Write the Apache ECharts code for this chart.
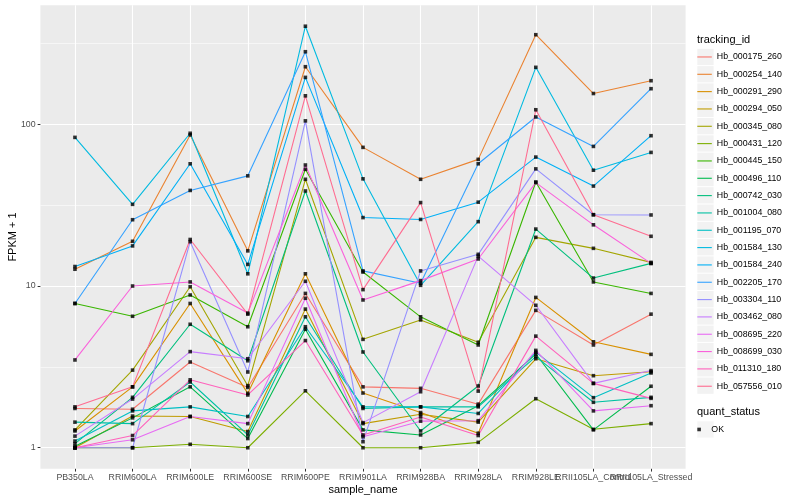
<!DOCTYPE html>
<html>
<head>
<meta charset="utf-8">
<script src="https://cdn.jsdelivr.net/npm/echarts@6.0.0/dist/echarts.min.js"></script>
<style>html,body{margin:0;padding:0;background:#fff}#chart{width:800px;height:500px}</style>
</head>
<body>
<div id="chart"></div>
<script>
// ---- data ----
const categories = ["PB350LA","RRIM600LA","RRIM600LE","RRIM600SE","RRIM600PE","RRIM901LA","RRIM928BA","RRIM928LA","RRIM928LE","RRII105LA_Control","RRII105LA_Stressed"];
const trackingIds = ["Hb_000175_260","Hb_000254_140","Hb_000291_290","Hb_000294_050","Hb_000345_080","Hb_000431_120","Hb_000445_150","Hb_000496_110","Hb_000742_030","Hb_001004_080","Hb_001195_070","Hb_001584_130","Hb_001584_240","Hb_002205_170","Hb_003304_110","Hb_003462_080","Hb_008695_220","Hb_008699_030","Hb_011310_180","Hb_057556_010"];
const hb_000175_260 = [1.75, 1.73, 3.39, 2.36, 9.0, 2.38, 2.33, 1.86, 7.07, 4.32, 6.7];
const hb_000254_140 = [12.7, 18.9, 86, 16.5, 227, 72, 45.7, 60.7, 358, 155, 186];
const hb_000291_290 = [1.27, 2.38, 7.8, 2.17, 11.9, 2.18, 1.65, 1.23, 8.5, 4.52, 3.78];
const hb_000294_050 = [1.0, 1.57, 1.56, 1.26, 7.2, 1.41, 1.61, 1.44, 3.55, 2.79, 2.95];
const hb_000345_080 = [1.29, 3.02, 9.9, 2.42, 45.7, 4.68, 6.17, 4.49, 20, 17.1, 14.0];
const hb_000431_120 = [1.0, 1.0, 1.05, 1.0, 2.25, 1.0, 1.0, 1.08, 2.01, 1.30, 1.41];
const hb_000445_150 = [7.8, 6.5, 8.8, 5.6, 52.7, 12.2, 6.45, 4.32, 44, 10.6, 9.0];
const hb_000496_110 = [1.02, 1.53, 2.38, 1.14, 5.4, 1.29, 1.2, 1.82, 3.8, 1.29, 2.4];
const hb_000742_030 = [1.06, 2.05, 5.8, 3.45, 38.7, 3.91, 1.27, 2.41, 22.5, 11.2, 13.8];
const hb_001004_080 = [1.44, 1.41, 2.55, 1.2, 6.45, 1.75, 1.79, 1.79, 3.66, 1.91, 2.05];
const hb_001195_070 = [1.10, 1.69, 1.79, 1.56, 5.6, 1.79, 1.79, 1.63, 3.9, 2.04, 2.9];
const hb_001584_130 = [83, 32, 88, 11.9, 404, 46, 10.1, 25, 225, 52, 67];
const hb_001584_240 = [13.2, 17.7, 57, 13.6, 195, 26.5, 25.8, 33, 62.7, 41.5, 85];
const hb_002205_170 = [7.8, 25.7, 39, 48, 281, 12.4, 10.4, 57, 111, 73, 166];
const hb_003304_110 = [1.0, 1.0, 18.8, 2.94, 105, 1.09, 12.4, 15.7, 53, 27.6, 27.5];
const hb_003462_080 = [1.18, 2.0, 3.93, 3.55, 10.7, 1.43, 2.22, 15.3, 7.6, 2.5, 3.0];
const hb_008695_220 = [1.0, 1.12, 1.56, 1.41, 8.4, 1.17, 1.46, 1.47, 4.0, 1.69, 1.82];
const hb_008699_030 = [3.49, 10.0, 10.6, 6.8, 56, 8.2, 10.8, 14.7, 43.6, 23.9, 13.8];
const hb_011310_180 = [1.0, 1.19, 2.63, 2.12, 4.6, 1.2, 1.55, 1.19, 4.9, 2.5, 2.02];
const hb_057556_010 = [1.79, 2.38, 19.4, 6.7, 150, 9.5, 32.8, 2.24, 123, 27.6, 20.3];
const seriesValues = [hb_000175_260, hb_000254_140, hb_000291_290, hb_000294_050, hb_000345_080, hb_000431_120, hb_000445_150, hb_000496_110, hb_000742_030, hb_001004_080, hb_001195_070, hb_001584_130, hb_001584_240, hb_002205_170, hb_003304_110, hb_003462_080, hb_008695_220, hb_008699_030, hb_011310_180, hb_057556_010];
const quantStatus = ["OK"];
const yTickValues = [1, 10, 100];
const yMinorValues = [3.1623, 31.623, 316.23];

// ---- styling ----
const palette = ["#F8766D","#EA8331","#D89000","#C09B00","#A3A500","#7CAE00","#39B600","#00BB4E","#00BF7D","#00C1A3","#00BFC4","#00BAE0","#00B0F6","#35A2FF","#9590FF","#C77CFF","#E76BF3","#FA62DB","#FF62BC","#FF6C91"];
const FONT = "'Liberation Sans', Arial, Helvetica, sans-serif";
const xIdx = categories.map((c, i) => i);
// labels split over two axes on the same scale, so ECharts does not drop overlapping ones
const xIdxEven = xIdx.filter(i => i % 2 === 0);
const xIdxOdd = xIdx.filter(i => i % 2 === 1);

const lineSeries = trackingIds.map((id, k) => ({
  name: id,
  type: 'line',
  xAxisIndex: 0, yAxisIndex: 0,
  data: seriesValues[k].map((v, i) => [i, v]),
  symbol: 'none',
  lineStyle: { width: 1.1, color: palette[k] },
  itemStyle: { color: palette[k] },
  z: 2,
  silent: true
}));

const pointData = [];
seriesValues.forEach(arr => arr.forEach((v, i) => pointData.push([i, v])));

const pointSeries = {
  name: quantStatus[0],
  type: 'scatter',
  xAxisIndex: 0, yAxisIndex: 0,
  data: pointData,
  symbol: 'rect',
  symbolSize: 3.6,
  itemStyle: { color: '#000' },
  z: 5,
  silent: true
};

const legendBase = {
  orient: 'vertical', left: 697.3, padding: 0, itemGap: 0, selectedMode: false,
  textStyle: { fontFamily: FONT, fontSize: 8.8, color: '#000', lineHeight: 17.33 }
};

const xLabelStyle = {
  margin: 4.5, hideOverlap: false, showMinLabel: true, showMaxLabel: true,
  fontFamily: FONT, fontSize: 8.8, color: '#4D4D4D',
  formatter: v => categories[Math.round(v)]
};

const chart = echarts.init(document.getElementById('chart'), null, { renderer: 'canvas' });
chart.setOption({
  animation: false,
  backgroundColor: '#fff',
  title: [
    { text: 'tracking_id', left: 697, top: 34.5, padding: 0,
      textStyle: { fontFamily: FONT, fontSize: 11, fontWeight: 'normal', color: '#000' } },
    { text: 'quant_status', left: 697, top: 406, padding: 0,
      textStyle: { fontFamily: FONT, fontSize: 11, fontWeight: 'normal', color: '#000' } }
  ],
  grid: {
    left: 40.4, right: 114.4, top: 5.2, bottom: 31.2,
    show: true, backgroundColor: '#EBEBEB', borderWidth: 0,
    containLabel: false, outerBoundsMode: 'none'
  },
  legend: [
    Object.assign({}, legendBase, {
      data: trackingIds, top: 48.8, icon: 'rect', itemWidth: 16.3, itemHeight: 16.3, itemGap: 1,
      itemStyle: { color: '#F2F2F2', borderWidth: 0 }, formatter: () => '',
      textStyle: { fontSize: 1, lineHeight: 1 }
    }),
    Object.assign({}, legendBase, {
      data: trackingIds, top: 48.3, icon: 'rect', itemWidth: 14.5, itemHeight: 1.1
    }),
    Object.assign({}, legendBase, {
      data: quantStatus, top: 421.3, icon: 'rect', itemWidth: 16.3, itemHeight: 16.3,
      itemStyle: { color: '#F2F2F2', borderWidth: 0 }, formatter: () => '',
      textStyle: { fontSize: 1, lineHeight: 1 }
    }),
    Object.assign({}, legendBase, {
      data: quantStatus, top: 420.8, icon: 'path://M0,0h1v1h-1z', itemWidth: 14.5, itemHeight: 3.6,
      symbolKeepAspect: true
    })
  ],
  xAxis: [
    {
      type: 'value', min: -0.6, max: 10.6, position: 'bottom',
      name: 'sample_name', nameLocation: 'middle', nameGap: 15.5, nameMoveOverlap: false,
      nameTextStyle: { fontFamily: FONT, fontSize: 11, color: '#000' },
      axisLine: { show: false, onZero: false },
      axisTick: { show: true, length: 2.75, customValues: xIdx, lineStyle: { color: '#333333', width: 1 } },
      axisLabel: Object.assign({ customValues: xIdxEven }, xLabelStyle),
      splitLine: { show: true, lineStyle: { color: '#FFFFFF', width: 1.1 } },
      minorSplitLine: { show: false }
    },
    {
      type: 'value', min: -0.6, max: 10.6, position: 'bottom',
      axisLine: { show: false, onZero: false },
      axisTick: { show: false, customValues: xIdxOdd },
      axisLabel: Object.assign({ customValues: xIdxOdd }, xLabelStyle),
      splitLine: { show: false }
    }
  ],
  yAxis: [
    {
      type: 'log', logBase: 10, min: 0.7410, max: 545.0,
      name: 'FPKM + 1', nameLocation: 'middle', nameGap: 22, nameRotate: 90, nameMoveOverlap: false,
      nameTextStyle: { fontFamily: FONT, fontSize: 11, color: '#000' },
      axisLine: { show: false, onZero: false },
      axisTick: { show: true, length: 2.75, customValues: yTickValues, lineStyle: { color: '#333333', width: 1 } },
      axisLabel: { customValues: yTickValues, margin: 4.8, hideOverlap: false, showMinLabel: true, showMaxLabel: true,
        fontFamily: FONT, fontSize: 8.8, color: '#4D4D4D',
        formatter: v => String(v) },
      splitLine: { show: true, lineStyle: { color: '#FFFFFF', width: 1.1 } }
    },
    {
      type: 'log', logBase: 10, min: 0.7410, max: 545.0, position: 'left',
      axisLine: { show: false, onZero: false },
      axisTick: { show: false, customValues: yMinorValues },
      axisLabel: { show: false, customValues: yMinorValues },
      splitLine: { show: true, lineStyle: { color: '#FFFFFF', width: 0.55 } }
    }
  ],
  series: lineSeries.concat([pointSeries])
});
</script>
</body>
</html>
